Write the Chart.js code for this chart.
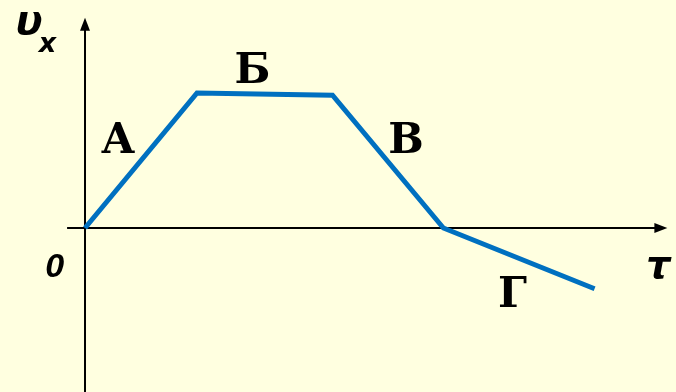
<!DOCTYPE html>
<html>
<head>
<meta charset="utf-8">
<script src="https://cdn.jsdelivr.net/npm/chart.js@4"></script>
<style>
  html, body { margin: 0; padding: 0; background: #FFFFE0; }
  #wrap { width: 676px; height: 392px; }
</style>
</head>
<body>
<div id="wrap"><canvas id="chart"></canvas></div>
<script>
// time points and velocity values (arbitrary units)
var times = [0, 1, 2.21, 3.2, 4.55];
var velocities = [0, 3, 2.95, 0, -1.35];

// segment labels and where they sit (baseline)
var segmentNames = ['А', 'Б', 'В', 'Г'];
var segmentX = [0.295, 1.496, 2.866, 3.817];
var segmentY = [1.667, 3.22, 1.667, -1.756];

var points = times.map(function(t, i) { return { x: t, y: velocities[i] }; });

var axesPlugin = {
  id: 'axes',
  beforeDatasetsDraw: function(chart) {
    var ctx = chart.ctx;
    var xs = chart.scales.x, ys = chart.scales.y;
    var ox = xs.getPixelForValue(0), oy = ys.getPixelForValue(0);
    ctx.save();
    ctx.strokeStyle = '#000';
    ctx.fillStyle = '#000';
    ctx.lineWidth = 2;
    // x axis
    var xEnd = xs.getPixelForValue(5.2);
    ctx.beginPath();
    ctx.moveTo(xs.getPixelForValue(-0.16), oy);
    ctx.lineTo(xEnd - 8, oy);
    ctx.stroke();
    ctx.beginPath();
    ctx.moveTo(xEnd, oy);
    ctx.lineTo(xEnd - 13, oy - 5);
    ctx.lineTo(xEnd - 13, oy + 5);
    ctx.closePath();
    ctx.fill();
    // y axis
    var yTop = ys.getPixelForValue(4.67);
    ctx.beginPath();
    ctx.moveTo(ox, chart.height);
    ctx.lineTo(ox, yTop + 8);
    ctx.stroke();
    ctx.beginPath();
    ctx.moveTo(ox, yTop);
    ctx.lineTo(ox - 5, yTop + 13);
    ctx.lineTo(ox + 5, yTop + 13);
    ctx.closePath();
    ctx.fill();
    ctx.restore();
  },
  afterDatasetsDraw: function(chart) {
    var ctx = chart.ctx;
    var xs = chart.scales.x, ys = chart.scales.y;
    ctx.save();
    ctx.fillStyle = '#000';
    ctx.textAlign = 'center';
    ctx.textBaseline = 'alphabetic';
    ctx.font = 'bold 42px "DejaVu Serif", serif';
    segmentNames.forEach(function(name, i) {
      ctx.fillText(name, xs.getPixelForValue(segmentX[i]), ys.getPixelForValue(segmentY[i]));
    });
    ctx.font = 'italic bold 40px "DejaVu Sans", sans-serif';
    ctx.fillText('υ', xs.getPixelForValue(-0.5), ys.getPixelForValue(4.31));
    ctx.font = 'italic bold 27px "DejaVu Sans", sans-serif';
    ctx.fillText('x', xs.getPixelForValue(-0.335), ys.getPixelForValue(3.91));
    ctx.font = 'italic bold 38px "DejaVu Sans", sans-serif';
    ctx.fillText('τ', xs.getPixelForValue(5.12), ys.getPixelForValue(-1.11));
    ctx.font = 'italic 600 34px "Liberation Sans", Arial, sans-serif';
    ctx.fillText('0', xs.getPixelForValue(-0.27), ys.getPixelForValue(-1.09));
    ctx.restore();
  }
};

new Chart(document.getElementById('chart'), {
  type: 'scatter',
  data: {
    datasets: [{
      data: points,
      showLine: true,
      borderColor: '#0070C0',
      borderWidth: 5,
      pointRadius: 0,
      borderJoinStyle: 'miter',
      fill: false
    }]
  },
  options: {
    responsive: true,
    maintainAspectRatio: false,
    animation: false,
    layout: { padding: 0 },
    plugins: { legend: { display: false }, tooltip: { enabled: false } },
    scales: {
      x: { type: 'linear', min: -0.759, max: 5.277, display: false },
      y: { type: 'linear', min: -3.644, max: 5.067, display: false }
    }
  },
  plugins: [axesPlugin]
});
</script>
</body>
</html>
